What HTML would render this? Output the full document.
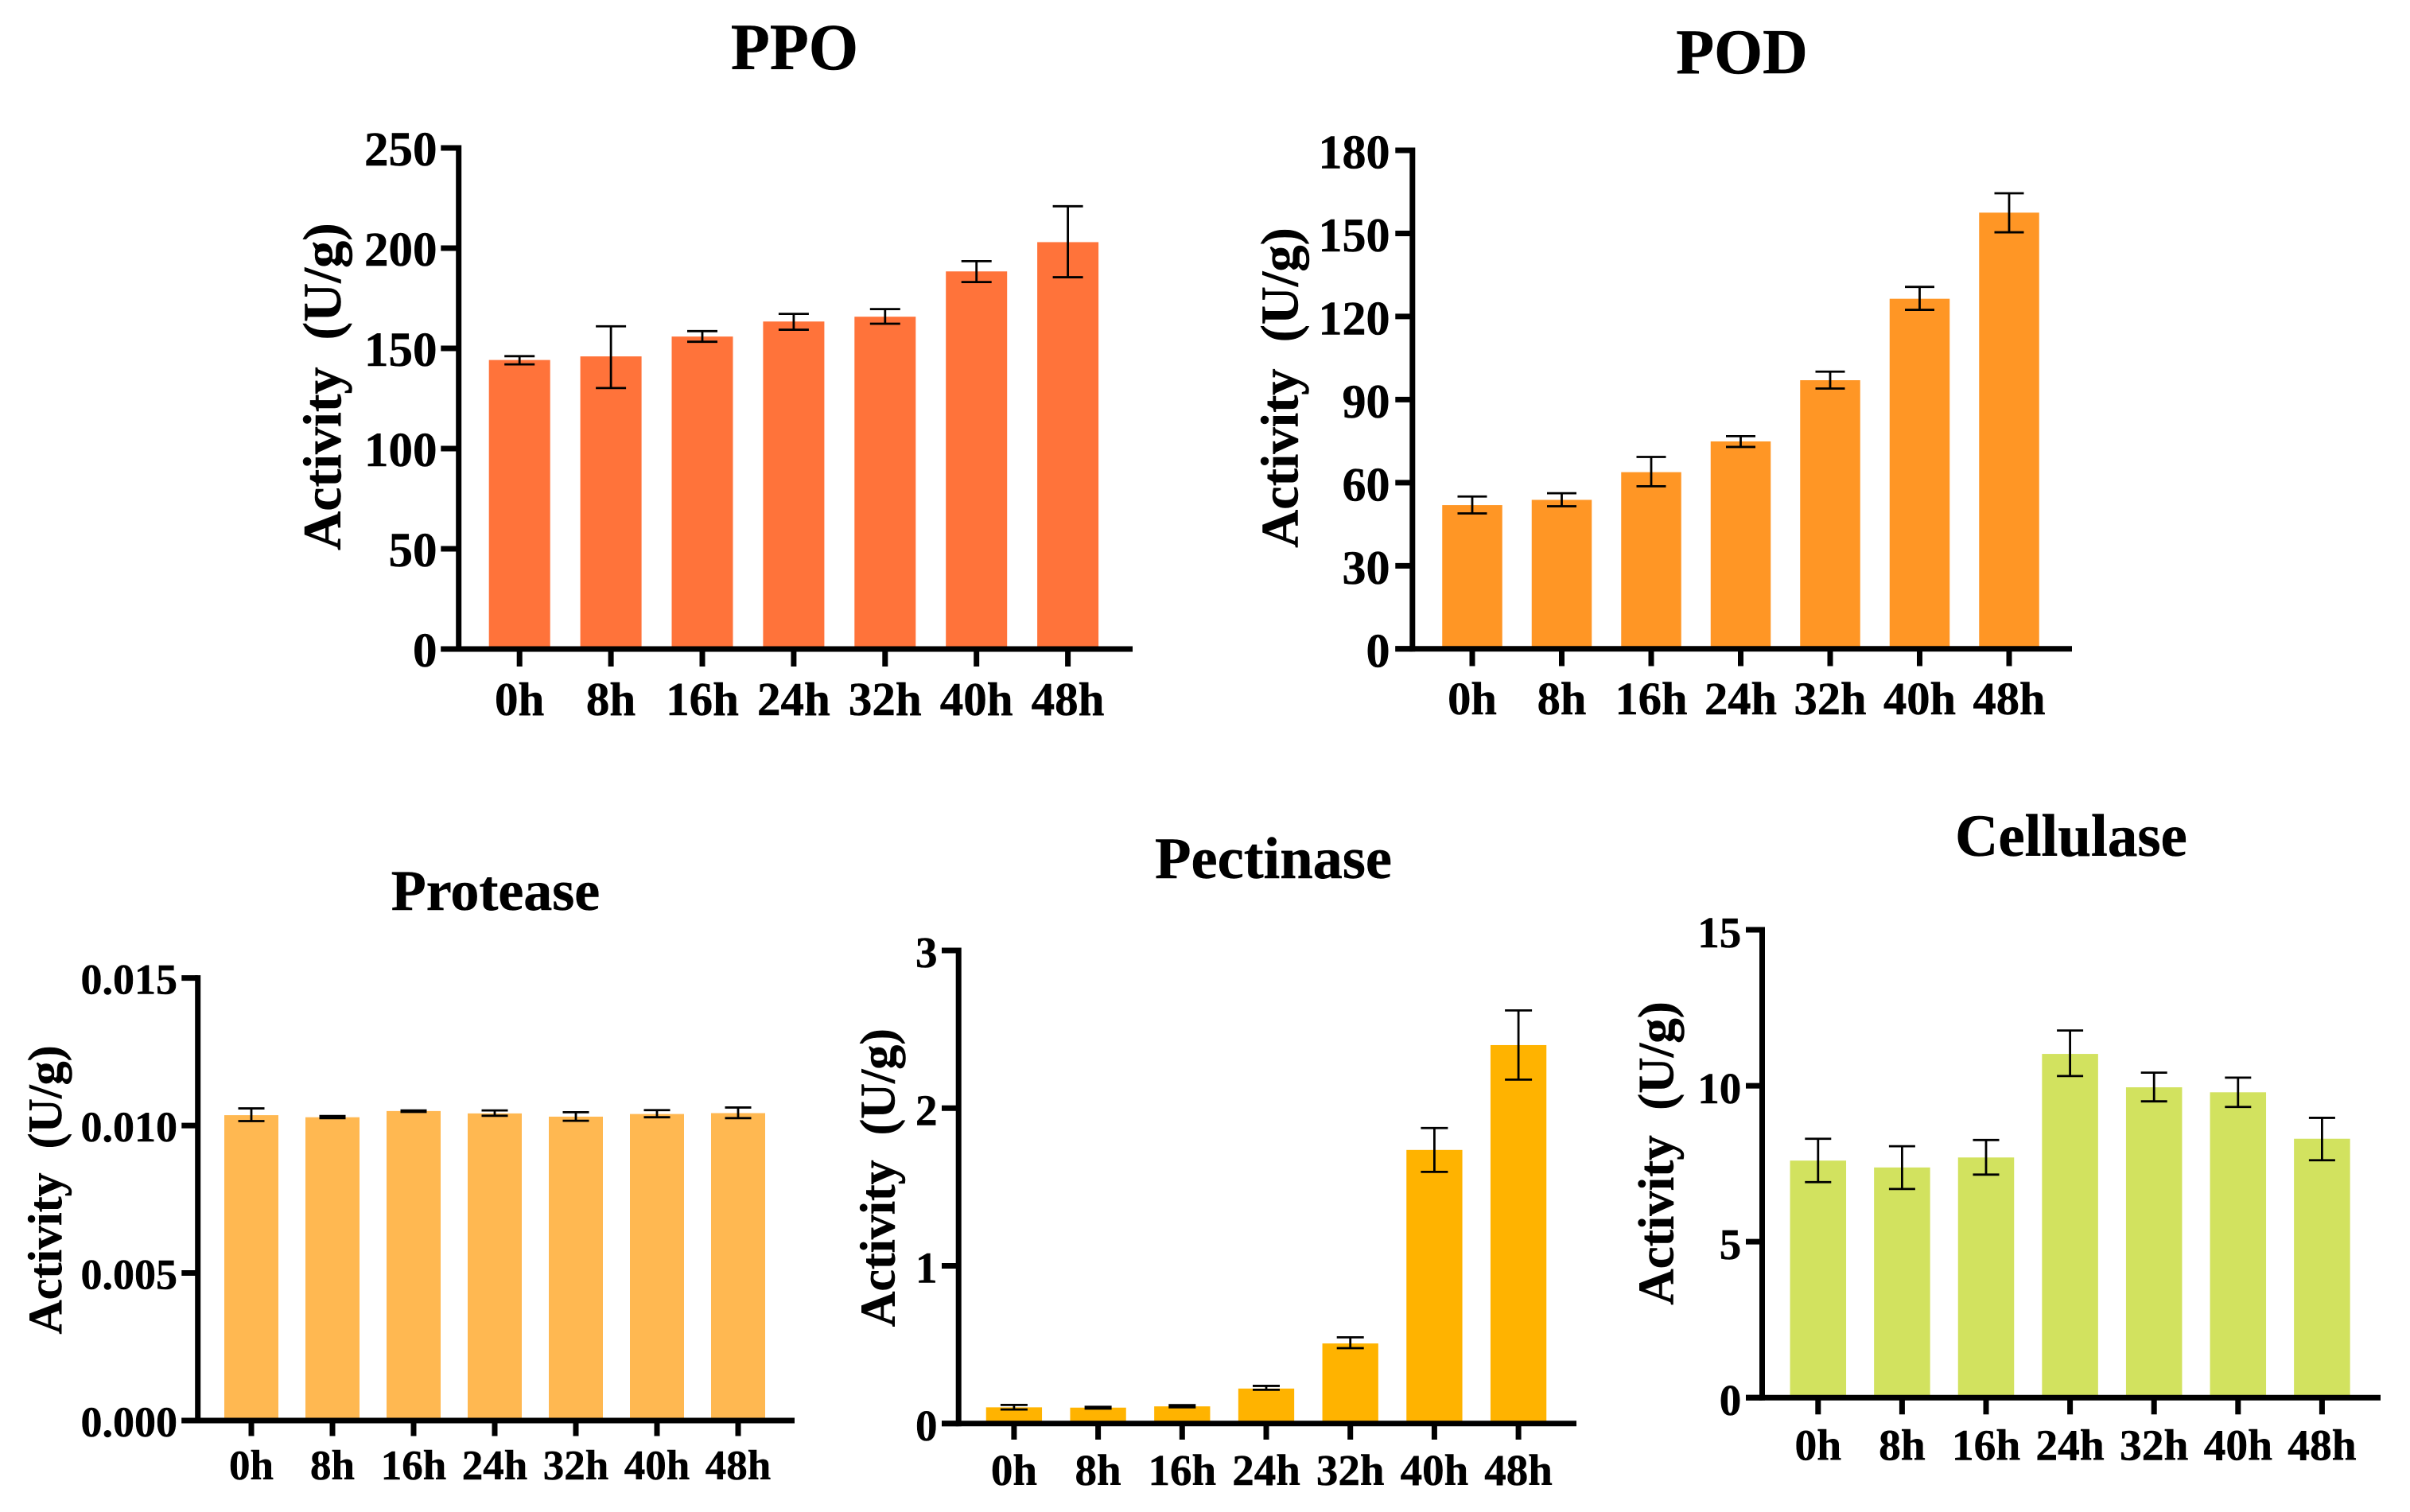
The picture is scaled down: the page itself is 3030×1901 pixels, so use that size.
<!DOCTYPE html>
<html lang="en">
<head>
<meta charset="utf-8">
<title>Enzyme activity charts</title>
<style>
html,body{margin:0;padding:0;background:#fff;}
svg{display:block;}
text{font-family:"Liberation Serif",serif;font-weight:bold;fill:#000;stroke:#000;stroke-width:.5px;}
</style>
</head>
<body>
<svg id="figure" xmlns="http://www.w3.org/2000/svg" width="3030" height="1901" viewBox="0 0 3030 1901">
  <rect x="0" y="0" width="3030" height="1901" fill="#fff"/>
  <g id="chart-ppo">
    <text text-anchor="middle" transform="translate(999 87) scale(.965 1)" font-size="83">PPO</text>
    <text text-anchor="middle" transform="translate(428 486) rotate(-90)" font-size="68">Activity&#160;&#160;(U/g)</text>
  </g>
  <g id="chart-pod">
    <text text-anchor="middle" transform="translate(2190 92) scale(.98 1)" font-size="80">POD</text>
    <text text-anchor="middle" transform="translate(1631.5 487.5) rotate(-90)" font-size="66.5">Activity&#160;&#160;(U/g)</text>
  </g>
  <g id="chart-protease">
    <text text-anchor="middle" x="623" y="1144" font-size="72">Protease</text>
    <text text-anchor="middle" transform="translate(77 1496) rotate(-90)" font-size="60">Activity&#160;&#160;(U/g)</text>
  </g>
  <g id="chart-pectinase">
    <text text-anchor="middle" x="1601" y="1104" font-size="74.5">Pectinase</text>
    <text text-anchor="middle" transform="translate(1124.5 1480.7) rotate(-90)" font-size="62">Activity&#160;&#160;(U/g)</text>
  </g>
  <g id="chart-cellulase">
    <text text-anchor="middle" x="2604" y="1076" font-size="75">Cellulase</text>
    <text text-anchor="middle" transform="translate(2103.5 1450) rotate(-90)" font-size="63">Activity&#160;&#160;(U/g)</text>
  </g>
</svg>
<script>
const timeCategories = ['0h', '8h', '16h', '24h', '32h', '40h', '48h'];

const ppoValues = [144.2, 146, 155.9, 163.4, 165.8, 188.4, 203];
const ppoErrHigh = [146.1, 161, 158.6, 167.2, 169.6, 193.5, 220.9];
const ppoErrLow = [142, 130.2, 153.3, 159.3, 162.3, 183.1, 185.5];
const ppoTicks = [0, 50, 100, 150, 200, 250];
const ppoTickLabels = ['0', '50', '100', '150', '200', '250'];

const podValues = [51.9, 53.8, 63.8, 74.9, 97, 126.4, 157.5];
const podErrHigh = [55, 56.2, 69.3, 76.8, 100.1, 130.7, 164.5];
const podErrLow = [48.9, 51.5, 58.7, 72.9, 94, 122.4, 150.4];
const podTicks = [0, 30, 60, 90, 120, 150, 180];
const podTickLabels = ['0', '30', '60', '90', '120', '150', '180'];

const proteaseValues = [0.01035, 0.01028, 0.01049, 0.01041, 0.0103, 0.01039, 0.01042];
const proteaseErrHigh = [0.01058, 0.01032, 0.01051, 0.01051, 0.01045, 0.01052, 0.01061];
const proteaseErrLow = [0.01015, 0.01025, 0.01046, 0.01033, 0.01016, 0.01028, 0.01025];
const proteaseTicks = [0, 0.005, 0.01, 0.015];
const proteaseTickLabels = ['0.000', '0.005', '0.010', '0.015'];

const pectinaseValues = [0.103, 0.101, 0.109, 0.222, 0.508, 1.735, 2.4];
const pectinaseErrHigh = [0.118, 0.106, 0.117, 0.239, 0.547, 1.874, 2.62];
const pectinaseErrLow = [0.089, 0.095, 0.103, 0.214, 0.478, 1.596, 2.181];
const pectinaseTicks = [0, 1, 2, 3];
const pectinaseTickLabels = ['0', '1', '2', '3'];

const cellulaseValues = [7.6, 7.38, 7.7, 11.02, 9.95, 9.79, 8.3];
const cellulaseErrHigh = [8.3, 8.06, 8.26, 11.77, 10.42, 10.26, 8.97];
const cellulaseErrLow = [6.91, 6.69, 7.15, 10.31, 9.5, 9.32, 7.61];
const cellulaseTicks = [0, 5, 10, 15];
const cellulaseTickLabels = ['0', '5', '10', '15'];

const SVG_NS = 'http://www.w3.org/2000/svg';

function makeEl(parent, tag, attrs, content) {
  const el = document.createElementNS(SVG_NS, tag);
  for (const key in attrs) el.setAttribute(key, attrs[key]);
  if (content !== undefined) el.textContent = content;
  parent.appendChild(el);
  return el;
}

function drawChart(groupId, prefix, values, errHigh, errLow, ticks, tickLabels, layout) {
  const group = document.getElementById(groupId);
  const yMax = ticks[ticks.length - 1];
  const yScale = v => layout.zeroY - (v / yMax) * (layout.zeroY - layout.topY);
  const xScale = i => layout.firstX + i * layout.stepX;

  values.forEach((v, i) => {
    const bar = makeEl(group, 'rect', {
      x: xScale(i) - layout.barW / 2,
      y: yScale(v),
      width: layout.barW,
      height: layout.zeroY - yScale(v),
      fill: layout.color
    });
    
    
  });

  values.forEach((v, i) => {
    const err = makeEl(group, 'path', {
      d: 'M' + (xScale(i) - layout.capW / 2) + ' ' + yScale(errHigh[i]) +
         'H' + (xScale(i) + layout.capW / 2) +
         'M' + xScale(i) + ' ' + yScale(errHigh[i]) +
         'V' + yScale(errLow[i]) +
         'M' + (xScale(i) - layout.capW / 2) + ' ' + yScale(errLow[i]) +
         'H' + (xScale(i) + layout.capW / 2),
      fill: 'none',
      stroke: '#000',
      'stroke-width': 2.8
    });
    
    
  });

  const yAxis = makeEl(group, 'line', {
    x1: layout.axisX, x2: layout.axisX,
    y1: layout.topY - 3.5, y2: layout.zeroY + 3.5,
    stroke: '#000', 'stroke-width': 7
  });
  
  

  const xAxis = makeEl(group, 'line', {
    x1: layout.tickLeft, x2: layout.axisEnd,
    y1: layout.zeroY, y2: layout.zeroY,
    stroke: '#000', 'stroke-width': 7
  });
  
  

  ticks.forEach((t, i) => {
    const tick = makeEl(group, 'line', {
      x1: layout.tickLeft, x2: layout.axisX,
      y1: yScale(t), y2: yScale(t),
      stroke: '#000', 'stroke-width': 7
    });
    
    
    const label = makeEl(group, 'text', {
      x: layout.yLabelRight,
      y: yScale(t) + layout.yLabelOffset,
      'text-anchor': 'end',
      'font-size': layout.yFont
    }, tickLabels[i]);
    
    
  });

  timeCategories.forEach((c, i) => {
    const tick = makeEl(group, 'line', {
      x1: xScale(i), x2: xScale(i),
      y1: layout.zeroY, y2: layout.tickBottom,
      stroke: '#000', 'stroke-width': 7
    });
    
    
    const label = makeEl(group, 'text', {
      x: xScale(i),
      y: layout.xLabelY,
      'text-anchor': 'middle',
      'font-size': layout.xFont
    }, c);
    
    
  });
}

drawChart('chart-ppo', 'ppo', ppoValues, ppoErrHigh, ppoErrLow, ppoTicks, ppoTickLabels, {
  axisX: 576.7, topY: 186, zeroY: 816, tickLeft: 554.3, axisEnd: 1424,
  firstX: 653.2, stepX: 114.9, barW: 77, capW: 38, tickBottom: 838,
  xLabelY: 899, yLabelRight: 549.5, yLabelOffset: 22, xFont: 59, yFont: 61, color: '#FF733A'
});
drawChart('chart-pod', 'pod', podValues, podErrHigh, podErrLow, podTicks, podTickLabels, {
  axisX: 1775.8, topY: 189, zeroY: 815.8, tickLeft: 1754.3, axisEnd: 2605,
  firstX: 1851, stepX: 112.5, barW: 75.5, capW: 37, tickBottom: 837.5,
  xLabelY: 898, yLabelRight: 1747.5, yLabelOffset: 22.5, xFont: 58.5, yFont: 60, color: '#FF9625'
});
drawChart('chart-protease', 'protease', proteaseValues, proteaseErrHigh, proteaseErrLow, proteaseTicks, proteaseTickLabels, {
  axisX: 248.7, topY: 1229.6, zeroY: 1786, tickLeft: 228.3, axisEnd: 999,
  firstX: 316, stepX: 102, barW: 68, capW: 33, tickBottom: 1805.5,
  xLabelY: 1860, yLabelRight: 223, yLabelOffset: 20, xFont: 53, yFont: 54, color: '#FFB851'
});
drawChart('chart-pectinase', 'pectinase', pectinaseValues, pectinaseErrHigh, pectinaseErrLow, pectinaseTicks, pectinaseTickLabels, {
  axisX: 1205.2, topY: 1195, zeroY: 1789.8, tickLeft: 1184, axisEnd: 1982,
  firstX: 1274.9, stepX: 105.7, barW: 70.3, capW: 34, tickBottom: 1810,
  xLabelY: 1867, yLabelRight: 1178.5, yLabelOffset: 21, xFont: 55, yFont: 55, color: '#FFB300'
});
drawChart('chart-cellulase', 'cellulase', cellulaseValues, cellulaseErrHigh, cellulaseErrLow, cellulaseTicks, cellulaseTickLabels, {
  axisX: 2215.5, topY: 1169, zeroY: 1757.2, tickLeft: 2195, axisEnd: 2993,
  firstX: 2285.8, stepX: 105.6, barW: 70.5, capW: 33, tickBottom: 1778.3,
  xLabelY: 1835.7, yLabelRight: 2189.3, yLabelOffset: 21.8, xFont: 55.5, yFont: 55, color: '#D2E25F'
});
</script>
</body>
</html>
